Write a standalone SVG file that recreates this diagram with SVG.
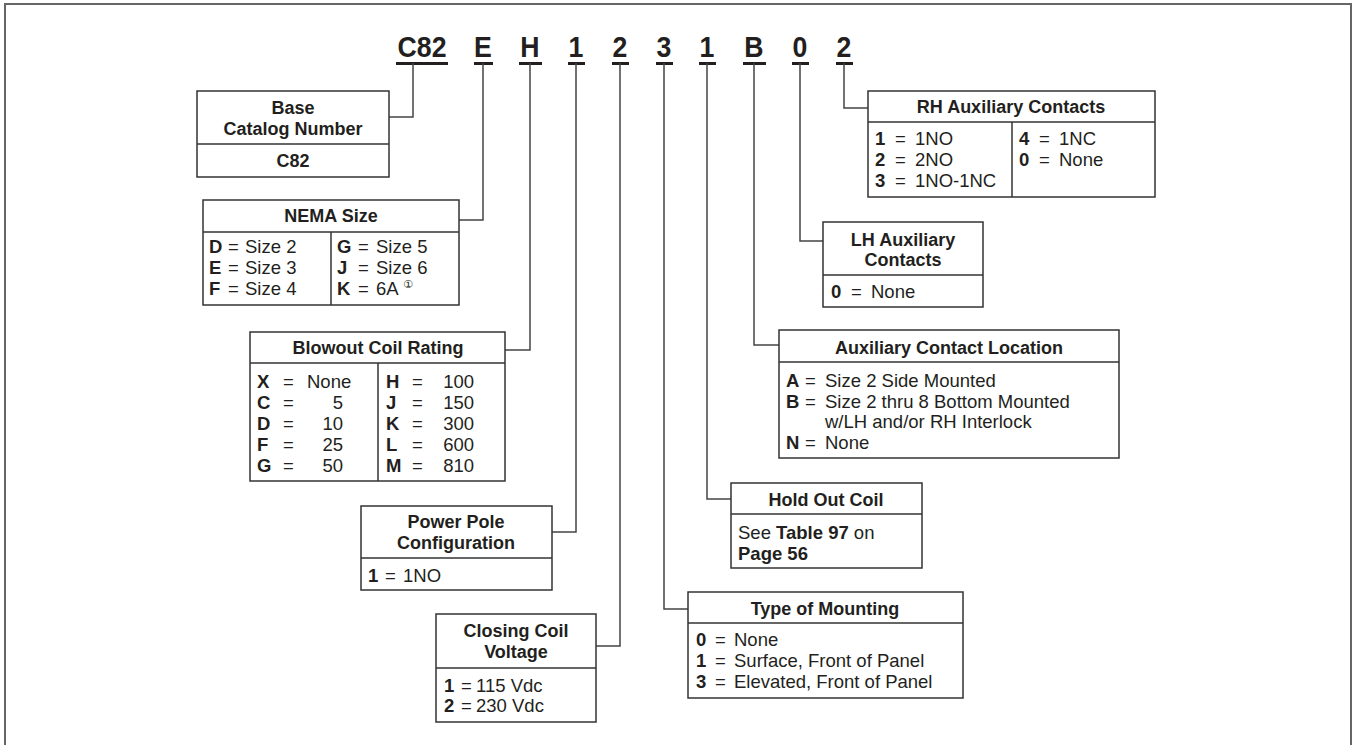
<svg xmlns="http://www.w3.org/2000/svg" width="1356" height="745" viewBox="0 0 1356 745">
<style>
.frame{fill:none;stroke:#666;stroke-width:2}
.box{fill:#fff;stroke:#333;stroke-width:1.5}
.ln{fill:none;stroke:#333;stroke-width:1.5}
.con{fill:none;stroke:#444;stroke-width:1.5}
.hd{font-family:"Liberation Sans",Arial,sans-serif;font-weight:bold;font-size:18px;fill:#231f20;text-anchor:middle}
.tx{font-family:"Liberation Sans",Arial,sans-serif;font-size:18.5px;fill:#231f20}
.b{font-weight:bold}
.code{font-family:"Liberation Sans",Arial,sans-serif;font-weight:bold;font-size:29px;fill:#231f20;text-anchor:middle}
.ul{fill:#231f20}
.sup{font-family:"DejaVu Sans","Noto Sans CJK SC",sans-serif;font-size:11px;fill:#231f20}
</style>
<rect class="frame" x="5" y="4" width="1346" height="760"/>

<g id="code">
<g transform="translate(422,57) scale(0.92,1)"><text class="code" x="0" y="0">C82</text></g>
<rect class="ul" x="396" y="62" width="52" height="3"/>
<g transform="translate(483,57) scale(0.92,1)"><text class="code" x="0" y="0">E</text></g>
<rect class="ul" x="474" y="62" width="19" height="3"/>
<g transform="translate(530,57) scale(0.92,1)"><text class="code" x="0" y="0">H</text></g>
<rect class="ul" x="519" y="62" width="23" height="3"/>
<g transform="translate(576,57) scale(0.92,1)"><text class="code" x="0" y="0">1</text></g>
<rect class="ul" x="568" y="62" width="17" height="3"/>
<g transform="translate(620,57) scale(0.92,1)"><text class="code" x="0" y="0">2</text></g>
<rect class="ul" x="612" y="62" width="17" height="3"/>
<g transform="translate(664,57) scale(0.92,1)"><text class="code" x="0" y="0">3</text></g>
<rect class="ul" x="656" y="62" width="17" height="3"/>
<g transform="translate(707,57) scale(0.92,1)"><text class="code" x="0" y="0">1</text></g>
<rect class="ul" x="699" y="62" width="17" height="3"/>
<g transform="translate(754,57) scale(0.92,1)"><text class="code" x="0" y="0">B</text></g>
<rect class="ul" x="743" y="62" width="23" height="3"/>
<g transform="translate(800,57) scale(0.92,1)"><text class="code" x="0" y="0">0</text></g>
<rect class="ul" x="792" y="62" width="17" height="3"/>
<g transform="translate(844,57) scale(0.92,1)"><text class="code" x="0" y="0">2</text></g>
<rect class="ul" x="836" y="62" width="17" height="3"/>
</g>

<g id="connectors">
<polyline class="con" points="413,63 413,117 389,117"/>
<polyline class="con" points="483,63 483,220 459,220"/>
<polyline class="con" points="530,63 530,350 505,350"/>
<polyline class="con" points="576,63 576,532 552,532"/>
<polyline class="con" points="620,63 620,646 596,646"/>
<polyline class="con" points="664,63 664,609 688,609"/>
<polyline class="con" points="707,63 707,499 731,499"/>
<polyline class="con" points="754,63 754,345 779,345"/>
<polyline class="con" points="800,63 800,241 823,241"/>
<polyline class="con" points="844,63 844,108 868,108"/>
</g>

<g id="base">
<rect class="box" x="197" y="91" width="192" height="86"/>
<line class="ln" x1="197" y1="144" x2="389" y2="144"/>
<text class="hd" x="293" y="114">Base</text>
<text class="hd" x="293" y="135">Catalog Number</text>
<text class="hd" x="293" y="167">C82</text>
</g>

<g id="nema">
<rect class="box" x="203" y="200" width="256" height="105"/>
<line class="ln" x1="203" y1="232" x2="459" y2="232"/>
<line class="ln" x1="331" y1="232" x2="331" y2="305"/>
<text class="hd" x="331" y="222">NEMA Size</text>
<text class="tx" y="253"><tspan class="b" x="209">D</tspan><tspan x="228">=</tspan><tspan x="245">Size 2</tspan></text>
<text class="tx" y="274"><tspan class="b" x="209">E</tspan><tspan x="228">=</tspan><tspan x="245">Size 3</tspan></text>
<text class="tx" y="295"><tspan class="b" x="209">F</tspan><tspan x="228">=</tspan><tspan x="245">Size 4</tspan></text>
<text class="tx" y="253"><tspan class="b" x="337">G</tspan><tspan x="358">=</tspan><tspan x="376">Size 5</tspan></text>
<text class="tx" y="274"><tspan class="b" x="337">J</tspan><tspan x="358">=</tspan><tspan x="376">Size 6</tspan></text>
<text class="tx" y="295"><tspan class="b" x="337">K</tspan><tspan x="358">=</tspan><tspan x="376">6A</tspan></text>
<text class="sup" x="403" y="288">①</text>
</g>

<g id="blowout">
<rect class="box" x="250" y="332" width="255" height="149"/>
<line class="ln" x1="250" y1="363" x2="505" y2="363"/>
<line class="ln" x1="378" y1="363" x2="378" y2="481"/>
<text class="hd" x="378" y="354">Blowout Coil Rating</text>
<text class="tx b" x="257" y="388">X</text><text class="tx" x="283" y="388">=</text><text class="tx" x="307" y="388">None</text>
<text class="tx b" x="257" y="409">C</text><text class="tx" x="343" y="409" text-anchor="end">5</text><text class="tx" x="283" y="409">=</text>
<text class="tx b" x="257" y="430">D</text><text class="tx" x="283" y="430">=</text><text class="tx" x="343" y="430" text-anchor="end">10</text>
<text class="tx b" x="257" y="451">F</text><text class="tx" x="283" y="451">=</text><text class="tx" x="343" y="451" text-anchor="end">25</text>
<text class="tx b" x="257" y="472">G</text><text class="tx" x="283" y="472">=</text><text class="tx" x="343" y="472" text-anchor="end">50</text>
<text class="tx b" x="386" y="388">H</text><text class="tx" x="412" y="388">=</text><text class="tx" x="474" y="388" text-anchor="end">100</text>
<text class="tx b" x="386" y="409">J</text><text class="tx" x="412" y="409">=</text><text class="tx" x="474" y="409" text-anchor="end">150</text>
<text class="tx b" x="386" y="430">K</text><text class="tx" x="412" y="430">=</text><text class="tx" x="474" y="430" text-anchor="end">300</text>
<text class="tx b" x="386" y="451">L</text><text class="tx" x="412" y="451">=</text><text class="tx" x="474" y="451" text-anchor="end">600</text>
<text class="tx b" x="386" y="472">M</text><text class="tx" x="412" y="472">=</text><text class="tx" x="474" y="472" text-anchor="end">810</text>
</g>

<g id="powerpole">
<rect class="box" x="361" y="506" width="191" height="84"/>
<line class="ln" x1="361" y1="558" x2="552" y2="558"/>
<text class="hd" x="456" y="528">Power Pole</text>
<text class="hd" x="456" y="549">Configuration</text>
<text class="tx" y="582"><tspan class="b" x="368">1</tspan><tspan x="385">=</tspan><tspan x="403">1NO</tspan></text>
</g>

<g id="closing">
<rect class="box" x="436" y="614" width="160" height="108"/>
<line class="ln" x1="436" y1="668" x2="596" y2="668"/>
<text class="hd" x="516" y="637">Closing Coil</text>
<text class="hd" x="516" y="658">Voltage</text>
<text class="tx" y="692"><tspan class="b" x="444">1</tspan><tspan x="461">=</tspan><tspan x="476">115 Vdc</tspan></text>
<text class="tx" y="712"><tspan class="b" x="444">2</tspan><tspan x="461">=</tspan><tspan x="476">230 Vdc</tspan></text>
</g>

<g id="mounting">
<rect class="box" x="688" y="592" width="275" height="106"/>
<line class="ln" x1="688" y1="623" x2="963" y2="623"/>
<text class="hd" x="825" y="615">Type of Mounting</text>
<text class="tx" y="646"><tspan class="b" x="696">0</tspan><tspan x="715">=</tspan><tspan x="734">None</tspan></text>
<text class="tx" y="667"><tspan class="b" x="696">1</tspan><tspan x="715">=</tspan><tspan x="734">Surface, Front of Panel</tspan></text>
<text class="tx" y="688"><tspan class="b" x="696">3</tspan><tspan x="715">=</tspan><tspan x="734">Elevated, Front of Panel</tspan></text>
</g>

<g id="holdout">
<rect class="box" x="731" y="483" width="191" height="85"/>
<line class="ln" x1="731" y1="514" x2="922" y2="514"/>
<text class="hd" x="826" y="506">Hold Out Coil</text>
<text class="tx" x="738" y="539">See <tspan class="b">Table 97</tspan> on</text>
<text class="tx b" x="738" y="560">Page 56</text>
</g>

<g id="auxloc">
<rect class="box" x="779" y="330" width="340" height="128"/>
<line class="ln" x1="779" y1="362" x2="1119" y2="362"/>
<text class="hd" x="949" y="354">Auxiliary Contact Location</text>
<text class="tx" y="387"><tspan class="b" x="786">A</tspan><tspan x="805">=</tspan><tspan x="825">Size 2 Side Mounted</tspan></text>
<text class="tx" y="408"><tspan class="b" x="786">B</tspan><tspan x="805">=</tspan><tspan x="825">Size 2 thru 8 Bottom Mounted</tspan></text>
<text class="tx" x="825" y="428">w/LH and/or RH Interlock</text>
<text class="tx" y="449"><tspan class="b" x="786">N</tspan><tspan x="805">=</tspan><tspan x="825">None</tspan></text>
</g>

<g id="lhaux">
<rect class="box" x="823" y="222" width="160" height="85"/>
<line class="ln" x1="823" y1="275" x2="983" y2="275"/>
<text class="hd" x="903" y="246">LH Auxiliary</text>
<text class="hd" x="903" y="266">Contacts</text>
<text class="tx" y="298"><tspan class="b" x="831">0</tspan><tspan x="851">=</tspan><tspan x="871">None</tspan></text>
</g>

<g id="rhaux">
<rect class="box" x="868" y="91" width="287" height="106"/>
<line class="ln" x1="868" y1="122" x2="1155" y2="122"/>
<line class="ln" x1="1012" y1="122" x2="1012" y2="197"/>
<text class="hd" x="1011" y="113">RH Auxiliary Contacts</text>
<text class="tx" y="145"><tspan class="b" x="875">1</tspan><tspan x="895">=</tspan><tspan x="915">1NO</tspan></text>
<text class="tx" y="166"><tspan class="b" x="875">2</tspan><tspan x="895">=</tspan><tspan x="915">2NO</tspan></text>
<text class="tx" y="187"><tspan class="b" x="875">3</tspan><tspan x="895">=</tspan><tspan x="915">1NO-1NC</tspan></text>
<text class="tx" y="145"><tspan class="b" x="1019">4</tspan><tspan x="1039">=</tspan><tspan x="1059">1NC</tspan></text>
<text class="tx" y="166"><tspan class="b" x="1019">0</tspan><tspan x="1039">=</tspan><tspan x="1059">None</tspan></text>
</g>
</svg>
